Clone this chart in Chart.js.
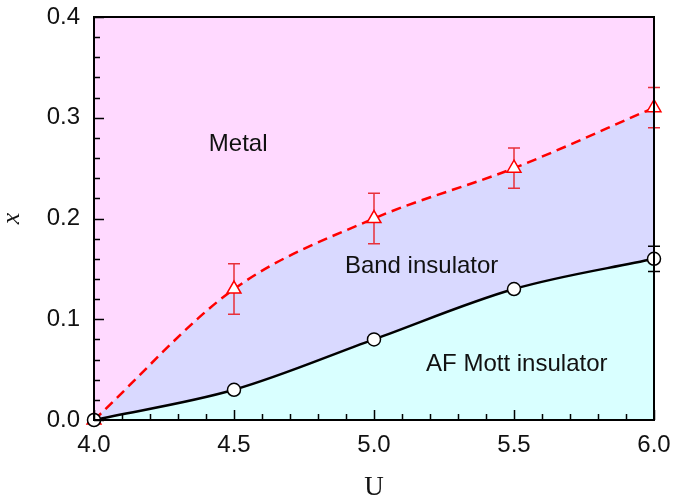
<!DOCTYPE html>
<html>
<head>
<meta charset="utf-8">
<script src="https://cdn.jsdelivr.net/npm/chart.js@4"></script>
<style>
  html, body { margin: 0; padding: 0; background: #fff; }
  #wrap { width: 673px; height: 502px; }
</style>
</head>
<body>
<div id="wrap"><canvas id="phase"></canvas></div>
<script>
// phase boundaries, x vs U
const uValues = [4.0, 4.5, 5.0, 5.5, 6.0];
const mottEdge = [0, 0.03, 0.08, 0.13, 0.16];
const mottErr = [0, 0, 0, 0, 0.0125];
const metalEdge = [0, 0.13, 0.2, 0.25, 0.31];
const metalErr = [0, 0.025, 0.025, 0.02, 0.02];

const regionLabels = [
  { text: 'Metal', u: 4.515, x: 0.274 },
  { text: 'Band insulator', u: 5.17, x: 0.152 },
  { text: 'AF Mott insulator', u: 5.51, x: 0.055 }
];

const tickFont = { family: 'Liberation Sans, Arial, sans-serif', size: 24 };

function pts(ys) {
  return uValues.map((u, i) => ({ x: u, y: ys[i] }));
}

// pink background + error bars (drawn under the lines/markers)
const underlay = {
  id: 'underlay',
  beforeDraw(chart) {
    const { ctx, chartArea: a } = chart;
    ctx.save();
    ctx.fillStyle = '#ffd9ff';
    ctx.fillRect(a.left, a.top, a.right - a.left, a.bottom - a.top);
    ctx.restore();
  },
  beforeDatasetsDraw(chart) {
    const { ctx, scales } = chart;
    const bars = [
      { ys: mottEdge, err: mottErr, color: '#000000' },
      { ys: metalEdge, err: metalErr, color: '#e8303a' }
    ];
    ctx.save();
    ctx.lineWidth = 1.5;
    bars.forEach(b => {
      ctx.strokeStyle = b.color;
      uValues.forEach((u, i) => {
        if (!b.err[i]) return;
        const px = scales.x.getPixelForValue(u);
        const y1 = scales.y.getPixelForValue(b.ys[i] + b.err[i]);
        const y2 = scales.y.getPixelForValue(b.ys[i] - b.err[i]);
        ctx.beginPath();
        ctx.moveTo(px, y1); ctx.lineTo(px, y2);
        ctx.moveTo(px - 6, y1); ctx.lineTo(px + 6, y1);
        ctx.moveTo(px - 6, y2); ctx.lineTo(px + 6, y2);
        ctx.stroke();
      });
    });
    ctx.restore();
  }
};

// frame, inside ticks and region names
const overlay = {
  id: 'overlay',
  afterDatasetsDraw(chart) {
    const { ctx, chartArea: a, scales } = chart;
    ctx.save();
    ctx.strokeStyle = '#000';
    ctx.lineWidth = 1.5;
    ctx.beginPath();
    for (let k = 0; k <= 20; k++) {
      const v = 4 + k * 0.1;
      const px = Math.round(scales.x.getPixelForValue(v)) + 0.5;
      const len = k % 5 === 0 ? 10 : 6;
      ctx.moveTo(px, a.bottom); ctx.lineTo(px, a.bottom - len);
    }
    for (let k = 0; k <= 20; k++) {
      const v = k * 0.02;
      const py = Math.round(scales.y.getPixelForValue(v)) + 0.5;
      const len = k % 5 === 0 ? 10 : 6;
      ctx.moveTo(a.left, py); ctx.lineTo(a.left + len, py);
    }
    ctx.stroke();
    ctx.lineWidth = 2;
    ctx.strokeRect(a.left, a.top, a.right - a.left, a.bottom - a.top);

    ctx.fillStyle = '#111';
    ctx.font = '24px "Liberation Sans", Arial, sans-serif';
    ctx.textAlign = 'center';
    ctx.textBaseline = 'middle';
    regionLabels.forEach(l => {
      ctx.fillText(l.text, scales.x.getPixelForValue(l.u), scales.y.getPixelForValue(l.x));
    });
    ctx.restore();
  }
};

new Chart(document.getElementById('phase'), {
  type: 'line',
  data: {
    datasets: [
      {
        label: 'AF Mott',
        data: pts(mottEdge),
        borderColor: '#000',
        borderWidth: 2.5,
        backgroundColor: '#d9ffff',
        fill: 'origin',
        cubicInterpolationMode: 'monotone',
        pointStyle: 'circle',
        pointRadius: 6.5,
        pointBorderWidth: 1.5,
        pointBorderColor: '#000',
        pointBackgroundColor: '#fff',
        clip: false
      },
      {
        label: 'Metal',
        data: pts(metalEdge),
        borderColor: '#ff0000',
        borderWidth: 2.5,
        borderDash: [10, 6],
        backgroundColor: '#d9d9ff',
        fill: '-1',
        cubicInterpolationMode: 'monotone',
        pointStyle: 'triangle',
        pointRadius: 8,
        pointBorderWidth: 1.5,
        pointBorderColor: '#ff0000',
        pointBackgroundColor: '#fff',
        clip: false
      }
    ]
  },
  options: {
    responsive: true,
    maintainAspectRatio: false,
    animation: false,
    layout: { padding: { top: 17, right: 19, left: 0, bottom: 0 } },
    plugins: {
      legend: { display: false },
      tooltip: { enabled: false },
      filler: { drawTime: 'beforeDatasetsDraw' }
    },
    scales: {
      x: {
        type: 'linear',
        min: 4.0,
        max: 6.0,
        afterFit(s) { s.height = 82; s.paddingLeft = 0; s.paddingRight = 0; },
        grid: { display: false, drawTicks: false },
        border: { display: false },
        ticks: {
          stepSize: 0.5,
          padding: 11,
          color: '#111',
          font: tickFont,
          callback: v => v.toFixed(1)
        },
        title: {
          display: true,
          text: 'U',
          color: '#111',
          padding: { top: 0, bottom: -2 },
          font: { family: 'Liberation Serif, Times New Roman, serif', size: 27 }
        }
      },
      y: {
        type: 'linear',
        min: 0,
        max: 0.4,
        afterFit(s) { s.width = 94; s.paddingTop = 0; s.paddingBottom = 0; },
        grid: { display: false, drawTicks: false },
        border: { display: false },
        ticks: {
          stepSize: 0.1,
          padding: 14,
          color: '#111',
          font: tickFont,
          callback: v => v.toFixed(1)
        },
        title: {
          display: true,
          text: 'x',
          color: '#111',
          padding: { top: -3, bottom: 0 },
          font: { family: 'Liberation Serif, Times New Roman, serif', size: 26, style: 'italic' }
        }
      }
    }
  },
  plugins: [underlay, overlay]
});
</script>
</body>
</html>
